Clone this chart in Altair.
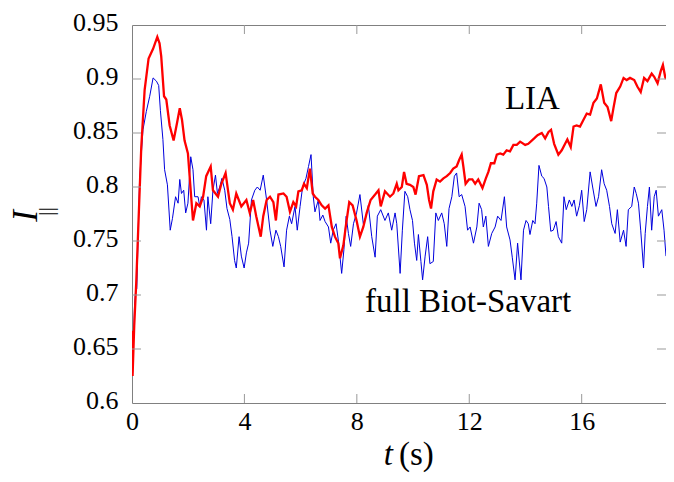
import altair as alt
import pandas as pd

# ---- data ----
lia_t = [0, 0.02, 0.08, 0.15, 0.33, 0.45, 0.59, 0.75, 0.90, 0.98, 1.04, 1.14, 1.22, 1.34, 1.48,
         1.60, 1.70, 1.78, 1.87, 1.99, 2.05, 2.17, 2.29, 2.41, 2.53, 2.64, 2.80, 2.88, 3.06, 3.18,
         3.33, 3.48, 3.59, 3.71, 3.89, 4.07, 4.19, 4.31, 4.42, 4.58, 4.67, 4.79, 4.91, 5.03, 5.12,
         5.21, 5.39, 5.50, 5.62, 5.74, 5.84, 5.92, 6.04, 6.12, 6.22, 6.33, 6.43, 6.51, 6.63, 6.75,
         6.87, 6.99, 7.11, 7.22, 7.34, 7.40, 7.52, 7.62, 7.73, 7.85, 7.99, 8.11, 8.23, 8.35, 8.49,
         8.65, 8.77, 8.85, 9.00, 9.18, 9.30, 9.42, 9.48, 9.60, 9.68, 9.77, 9.89, 10.01, 10.09, 10.21,
         10.37, 10.49, 10.57, 10.64, 10.72, 10.84, 10.96, 11.08, 11.20, 11.32, 11.43, 11.55, 11.64,
         11.73, 11.79, 11.87, 11.99, 12.11, 12.21, 12.32, 12.47, 12.59, 12.68, 12.77, 12.89, 12.98,
         13.10, 13.21, 13.33, 13.45, 13.57, 13.69, 13.81, 13.99, 14.10, 14.31, 14.43, 14.58, 14.70,
         14.82, 14.91, 15.02, 15.17, 15.29, 15.41, 15.49, 15.61, 15.71, 15.82, 15.94, 16.06, 16.18,
         16.30, 16.42, 16.54, 16.68, 16.80, 16.92, 17.05, 17.13, 17.23, 17.37, 17.49, 17.60, 17.72,
         17.87, 17.98, 18.10, 18.22, 18.34, 18.49, 18.58, 18.70, 18.81, 18.89, 18.97, 19.0]
lia_I = [0.667, 0.625, 0.672, 0.711, 0.837, 0.890, 0.919, 0.928, 0.939, 0.933, 0.921, 0.884, 0.881,
         0.857, 0.843, 0.859, 0.873, 0.862, 0.843, 0.831, 0.810, 0.769, 0.785, 0.782, 0.791, 0.810,
         0.819, 0.797, 0.791, 0.803, 0.813, 0.785, 0.779, 0.794, 0.782, 0.788, 0.776, 0.788, 0.773,
         0.754, 0.773, 0.788, 0.791, 0.786, 0.769, 0.793, 0.794, 0.791, 0.777, 0.786, 0.782, 0.796,
         0.797, 0.803, 0.799, 0.817, 0.794, 0.791, 0.788, 0.783, 0.780, 0.783, 0.763, 0.754, 0.748,
         0.734, 0.746, 0.766, 0.786, 0.783, 0.769, 0.754, 0.763, 0.776, 0.788, 0.793, 0.797, 0.782,
         0.796, 0.791, 0.794, 0.803, 0.797, 0.800, 0.814, 0.803, 0.802, 0.800, 0.793, 0.810, 0.811,
         0.802, 0.788, 0.780, 0.796, 0.807, 0.805, 0.808, 0.810, 0.813, 0.817, 0.819, 0.825, 0.830,
         0.819, 0.803, 0.807, 0.807, 0.803, 0.807, 0.799, 0.808, 0.814, 0.822, 0.822, 0.830, 0.831,
         0.830, 0.834, 0.833, 0.839, 0.839, 0.842, 0.839, 0.840, 0.845, 0.848, 0.850, 0.845, 0.851,
         0.853, 0.840, 0.830, 0.834, 0.840, 0.844, 0.837, 0.856, 0.857, 0.856, 0.862, 0.868, 0.867,
         0.878, 0.882, 0.895, 0.878, 0.874, 0.861, 0.873, 0.887, 0.893, 0.901, 0.899, 0.901, 0.899,
         0.893, 0.888, 0.901, 0.898, 0.905, 0.902, 0.896, 0.907, 0.913, 0.902, 0.900]

bs_t = [0, 0.02, 0.09, 0.13, 0.17, 0.27, 0.39, 0.51, 0.63, 0.75, 0.87, 0.95, 1.01, 1.10, 1.16, 1.26,
        1.36, 1.44, 1.55, 1.64, 1.70, 1.76, 1.84, 1.91, 1.99, 2.09, 2.17, 2.23, 2.35, 2.41, 2.47,
        2.56, 2.65, 2.70, 2.80, 2.88, 2.97, 3.04, 3.12, 3.20, 3.30, 3.38, 3.48, 3.56, 3.65, 3.71,
        3.81, 3.89, 3.99, 4.07, 4.15, 4.25, 4.37, 4.46, 4.56, 4.67, 4.79, 4.91, 5.01, 5.12, 5.21,
        5.29, 5.41, 5.50, 5.60, 5.68, 5.80, 5.88, 5.98, 6.07, 6.19, 6.28, 6.37, 6.45, 6.51, 6.63,
        6.69, 6.79, 6.87, 6.99, 7.07, 7.16, 7.26, 7.34, 7.46, 7.54, 7.62, 7.70, 7.78, 7.88, 7.99,
        8.11, 8.23, 8.33, 8.41, 8.53, 8.65, 8.73, 8.85, 9.00, 9.12, 9.24, 9.36, 9.42, 9.54, 9.62,
        9.71, 9.81, 9.89, 9.98, 10.05, 10.13, 10.19, 10.28, 10.34, 10.43, 10.52, 10.60, 10.72,
        10.81, 10.90, 11.02, 11.11, 11.20, 11.28, 11.38, 11.47, 11.55, 11.64, 11.73, 11.85, 11.94,
        12.03, 12.15, 12.27, 12.35, 12.44, 12.50, 12.59, 12.68, 12.80, 12.92, 13.01, 13.13, 13.25,
        13.33, 13.45, 13.53, 13.63, 13.72, 13.84, 13.93, 14.02, 14.10, 14.16, 14.26, 14.34, 14.40,
        14.48, 14.58, 14.66, 14.76, 14.82, 14.90, 14.99, 15.09, 15.17, 15.29, 15.37, 15.45, 15.56,
        15.65, 15.73, 15.82, 15.92, 16.00, 16.09, 16.18, 16.30, 16.39, 16.51, 16.60, 16.71, 16.80,
        16.89, 16.99, 17.07, 17.19, 17.27, 17.37, 17.49, 17.58, 17.66, 17.78, 17.87, 17.94, 18.02,
        18.10, 18.20, 18.26, 18.34, 18.41, 18.49, 18.58, 18.65, 18.73, 18.85, 18.93, 19.00]
bs_I = [0.665, 0.628, 0.690, 0.704, 0.706, 0.807, 0.853, 0.870, 0.884, 0.901, 0.898, 0.894, 0.871,
        0.844, 0.816, 0.802, 0.760, 0.771, 0.791, 0.785, 0.807, 0.794, 0.797, 0.776, 0.785, 0.828,
        0.816, 0.791, 0.791, 0.782, 0.791, 0.788, 0.760, 0.791, 0.766, 0.797, 0.811, 0.794, 0.800,
        0.808, 0.797, 0.780, 0.770, 0.754, 0.732, 0.725, 0.754, 0.736, 0.725, 0.739, 0.748, 0.788,
        0.797, 0.800, 0.797, 0.811, 0.788, 0.760, 0.745, 0.760, 0.754, 0.745, 0.726, 0.760, 0.773,
        0.766, 0.782, 0.760, 0.782, 0.800, 0.808, 0.819, 0.830, 0.791, 0.777, 0.788, 0.769, 0.774,
        0.768, 0.763, 0.748, 0.760, 0.766, 0.751, 0.720, 0.742, 0.773, 0.757, 0.745, 0.766, 0.776,
        0.793, 0.766, 0.773, 0.783, 0.754, 0.735, 0.773, 0.779, 0.769, 0.776, 0.760, 0.776, 0.766,
        0.720, 0.760, 0.796, 0.791, 0.779, 0.769, 0.748, 0.732, 0.756, 0.731, 0.714, 0.736, 0.754,
        0.729, 0.731, 0.776, 0.769, 0.776, 0.766, 0.745, 0.780, 0.791, 0.810, 0.813, 0.791, 0.793,
        0.782, 0.760, 0.763, 0.748, 0.763, 0.785, 0.779, 0.763, 0.773, 0.745, 0.757, 0.763, 0.773,
        0.769, 0.791, 0.763, 0.751, 0.735, 0.714, 0.748, 0.714, 0.760, 0.769, 0.766, 0.756, 0.769,
        0.766, 0.785, 0.820, 0.810, 0.808, 0.800, 0.782, 0.759, 0.760, 0.768, 0.754, 0.748, 0.791,
        0.779, 0.788, 0.782, 0.788, 0.773, 0.783, 0.797, 0.768, 0.779, 0.814, 0.800, 0.782, 0.791,
        0.816, 0.803, 0.797, 0.782, 0.766, 0.757, 0.779, 0.749, 0.760, 0.745, 0.779, 0.782, 0.800,
        0.794, 0.785, 0.760, 0.725, 0.757, 0.782, 0.800, 0.760, 0.791, 0.797, 0.773, 0.779, 0.760,
        0.736]

x_ticks = [0, 4, 8, 12, 16]
y_ticks = [0.6, 0.65, 0.7, 0.75, 0.8, 0.85, 0.9, 0.95]

labels = ["LIA", "full Biot-Savart"]
label_t = [13.27, 8.29]
label_I = [0.872, 0.6845]

# ---- chart ----
W, H = 534, 378
SERIF = "Liberation Serif"
xs = alt.Scale(domain=[0, 19], nice=False, zero=False)
ys = alt.Scale(domain=[0.6, 0.95], nice=False, zero=False)

bs_df = pd.DataFrame({"t": bs_t, "I": bs_I})
lia_df = pd.DataFrame({"t": lia_t, "I": lia_I})
lab_df = pd.DataFrame({"label": labels, "t": label_t, "I": label_I})
xt_df = pd.DataFrame({"t": x_ticks[1:]})
yt_df = pd.DataFrame({"I": y_ticks[1:-1]})

common_axis = dict(title=None, labelFlush=False, labelFont=SERIF, labelFontSize=26,
                   labelColor="black", domain=False, ticks=False, grid=False)
x_axis = alt.Axis(values=x_ticks, format="d", labelPadding=5, **common_axis)
y_axis = alt.Axis(values=y_ticks, format=".2~f", labelPadding=14, labelOffset=-3, **common_axis)

X = alt.X("t:Q", scale=xs, axis=x_axis)
Y = alt.Y("I:Q", scale=ys, axis=y_axis)

blue = alt.Chart(bs_df).mark_line(color="#0000dd", strokeWidth=1, clip=True).encode(x=X, y=Y)
red = alt.Chart(lia_df).mark_line(color="#ff0000", strokeWidth=2.3, clip=True).encode(x=X, y=Y)

tick_col = "#999999"
bottom_ticks = alt.Chart(xt_df).mark_rule(color=tick_col, strokeWidth=1).encode(
    x=X, y=alt.value(H), y2=alt.value(H - 9))
top_ticks = alt.Chart(xt_df).mark_rule(color=tick_col, strokeWidth=1).encode(
    x=X, y=alt.value(0), y2=alt.value(9))
left_ticks = alt.Chart(yt_df).mark_rule(color=tick_col, strokeWidth=1).encode(
    y=Y, x=alt.value(0), x2=alt.value(9))
right_ticks = alt.Chart(yt_df).mark_rule(color=tick_col, strokeWidth=1).encode(
    y=Y, x=alt.value(W), x2=alt.value(W - 9))

annot = alt.Chart(lab_df).mark_text(font=SERIF, fontSize=33, align="left",
                                    baseline="alphabetic", color="black").encode(
    x=X, y=Y, text="label:N",
)

ytitle = alt.Chart(pd.DataFrame({"s": ["I"]})).mark_text(
    font=SERIF, fontSize=35, fontStyle="italic", angle=270, align="center",
    baseline="alphabetic", color="black").encode(
    x=alt.value(-95), y=alt.value(191), text="s:N")
ysub = alt.Chart(pd.DataFrame({"s": ["||"]})).mark_text(
    font=SERIF, fontSize=22, angle=270, align="center",
    baseline="alphabetic", color="black").encode(
    x=alt.value(-79), y=alt.value(186.5), text="s:N")
xtitle_t = alt.Chart(pd.DataFrame({"s": ["t"]})).mark_text(
    font=SERIF, fontSize=33, fontStyle="italic", align="right",
    baseline="alphabetic", color="black").encode(
    x=alt.value(261), y=alt.value(440), text="s:N")
xtitle_u = alt.Chart(pd.DataFrame({"s": ["(s)"]})).mark_text(
    font=SERIF, fontSize=33, align="left",
    baseline="alphabetic", color="black").encode(
    x=alt.value(267), y=alt.value(440), text="s:N")

chart = alt.layer(
    blue, red, bottom_ticks, top_ticks, left_ticks, right_ticks,
    annot, ytitle, ysub, xtitle_t, xtitle_u,
).properties(
    width=W, height=H,
    autosize=alt.AutoSizeParams(type="none"),
    padding={"left": 124, "top": 17, "right": 0, "bottom": 71},
).configure_view(
    stroke="#808080", strokeWidth=1,
).configure_axis(
    domain=False, ticks=False, grid=False,
    labelFont=SERIF, labelFontSize=26, labelColor="black",
)

chart.save("out.html", embed_options={"renderer": "svg", "actions": False})
